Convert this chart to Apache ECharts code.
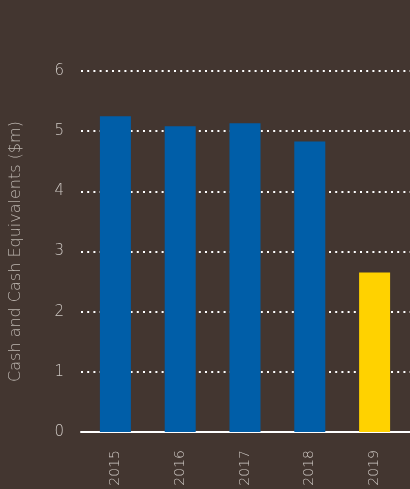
<!DOCTYPE html>
<html>
<head>
<meta charset="utf-8">
<script src="https://cdn.jsdelivr.net/npm/echarts@6/dist/echarts.min.js"></script>
<style>
  html, body { margin: 0; padding: 0; background: #433630; }
  #main { width: 410px; height: 489px; }
</style>
</head>
<body>
<div id="main"></div>
<script>
  var years = ['2015', '2016', '2017', '2018', '2019'];
  var cash = [5.25, 5.08, 5.13, 4.83, 2.65];
  var barColors = ['#005ea8', '#005ea8', '#005ea8', '#005ea8', '#ffd200'];
  var yTitle = 'Cash and Cash Equivalents ($m)';

  var font = 'DejaVu Sans';
  var myChart = echarts.init(document.getElementById('main'));
  // grid 0: y labels, dotted lines and base line; grid 1: the bars
  var option = {
    backgroundColor: '#433630',
    grid: [
      { left: 79, right: 0, top: 71, bottom: 57 },
      { left: 83, right: 3, top: 71, bottom: 57 }
    ],
    xAxis: [
      {
        gridIndex: 0, type: 'value', min: 0, max: 1,
        axisLine: { show: true, onZero: false, lineStyle: { color: '#ffffff', width: 2 } },
        axisTick: { show: false }, axisLabel: { show: false }, splitLine: { show: false }
      },
      {
        gridIndex: 1, type: 'category', data: years,
        axisLine: { show: false },
        axisTick: { show: false },
        axisLabel: {
          rotate: 90, color: '#cdc7c2', fontFamily: font, fontWeight: 200,
          fontSize: 14, margin: 18
        }
      }
    ],
    yAxis: [
      {
        gridIndex: 0, type: 'value', min: 0, max: 6, interval: 1,
        name: yTitle, nameLocation: 'middle', nameGap: 57,
        nameTextStyle: { color: '#bdb6b0', fontFamily: font, fontWeight: 200, fontSize: 16 },
        axisLine: { show: false },
        axisTick: { show: false },
        axisLabel: { color: '#cdc7c2', fontFamily: font, fontWeight: 200, fontSize: 15, margin: 17 },
        splitLine: { lineStyle: { color: '#ffffff', width: 2, type: [2, 4.2] } }
      },
      {
        gridIndex: 1, type: 'value', min: 0, max: 6, interval: 1, show: false
      }
    ],
    series: [{
      type: 'bar',
      xAxisIndex: 1,
      yAxisIndex: 1,
      data: cash.map(function (v, i) {
        return { value: v, itemStyle: { color: barColors[i] } };
      }),
      barWidth: 31,
      z: 3
    }]
  };
  myChart.setOption(option);
</script>
</body>
</html>
